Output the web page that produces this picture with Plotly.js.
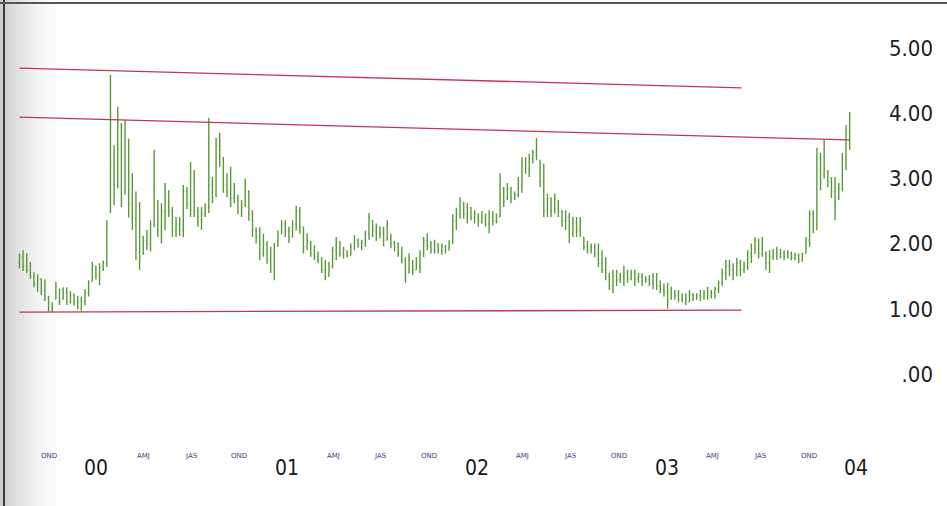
<!DOCTYPE html>
<html>
<head>
<meta charset="utf-8">
<script src="https://cdn.plot.ly/plotly-3.0.1.min.js"></script>
<style>
html,body{margin:0;padding:0;background:#fff;}
#chart{width:947px;height:506px;}
</style>
</head>
<body>
<div id="chart"></div>
<script>
// Weekly bars, first week starting 1999-09-20
const firstWeek = '1999-09-20';

const high = [1.85,1.90,1.85,1.72,1.56,1.53,1.47,1.45,1.20,1.10,
1.41,1.30,1.33,1.33,1.27,1.24,1.20,1.19,1.30,1.44,
1.72,1.66,1.70,1.74,2.36,4.59,3.51,4.10,3.85,3.90,
3.60,3.08,2.80,2.64,2.12,2.21,2.36,3.44,2.67,2.62,
2.93,2.82,2.56,2.41,2.41,2.90,2.87,3.25,3.13,2.56,
2.56,2.62,3.93,3.02,3.62,3.70,3.33,3.08,3.18,2.93,
2.75,2.67,3.00,2.82,2.51,2.25,2.25,2.15,2.04,1.95,
2.01,2.20,2.36,2.36,2.26,2.36,2.58,2.56,2.26,2.16,
2.04,1.97,1.88,1.79,1.75,1.72,1.95,2.10,2.04,1.95,
1.90,2.00,2.13,2.08,2.06,2.20,2.47,2.36,2.31,2.26,
2.26,2.36,2.15,2.04,2.02,1.95,1.79,1.85,1.75,1.79,
1.90,2.10,2.16,2.04,2.06,2.00,2.00,1.98,2.05,2.45,
2.55,2.71,2.64,2.62,2.56,2.51,2.46,2.50,2.46,2.51,
2.50,2.46,3.08,2.87,2.93,2.87,2.80,3.02,3.33,3.33,
3.38,3.44,3.62,3.28,3.23,2.77,2.71,2.77,2.67,2.51,
2.51,2.47,2.41,2.41,2.41,2.10,2.04,2.00,2.00,2.00,
1.90,1.79,1.55,1.60,1.60,1.55,1.66,1.60,1.60,1.60,
1.55,1.55,1.50,1.52,1.55,1.55,1.44,1.39,1.40,1.34,
1.29,1.29,1.24,1.24,1.29,1.24,1.24,1.29,1.29,1.34,
1.29,1.34,1.44,1.62,1.75,1.75,1.70,1.78,1.75,1.72,
1.90,2.00,2.10,2.08,2.10,1.88,1.90,1.92,1.95,1.92,
1.90,1.90,1.88,1.86,1.85,1.86,2.10,2.51,2.51,3.47,
3.39,3.59,3.13,3.02,3.02,2.93,3.39,3.82,4.02];

const low = [1.62,1.58,1.55,1.46,1.33,1.26,1.21,1.12,0.96,0.95,
1.15,1.06,1.14,1.06,1.08,1.05,0.99,0.97,1.05,1.19,
1.42,1.45,1.36,1.58,1.64,2.47,2.59,2.85,2.56,2.75,
2.40,2.21,1.75,1.60,1.83,1.90,1.88,2.25,2.10,2.00,
2.21,2.41,2.10,2.10,2.12,2.10,2.53,2.41,2.41,2.26,
2.21,2.41,2.47,2.62,2.71,3.18,2.78,2.71,2.56,2.62,
2.45,2.41,2.56,2.35,2.10,2.00,1.75,1.80,1.69,1.55,
1.44,1.96,2.15,2.10,2.01,2.10,2.20,2.15,1.85,1.90,
1.80,1.75,1.70,1.55,1.44,1.50,1.62,1.75,1.80,1.77,
1.79,1.82,1.90,1.94,1.90,1.95,2.06,2.10,2.04,2.08,
1.96,2.05,1.93,1.88,1.80,1.70,1.40,1.55,1.52,1.60,
1.55,1.79,1.90,1.85,1.85,1.85,1.83,1.85,1.90,2.00,
2.21,2.38,2.38,2.31,2.36,2.31,2.26,2.31,2.26,2.16,
2.28,2.31,2.41,2.56,2.67,2.62,2.67,2.71,2.78,3.07,
3.02,3.23,3.28,2.87,2.41,2.41,2.41,2.46,2.41,2.26,
2.21,2.01,2.10,2.10,2.10,1.90,1.85,1.85,1.79,1.64,
1.55,1.44,1.29,1.24,1.35,1.40,1.35,1.40,1.44,1.35,
1.40,1.35,1.40,1.35,1.30,1.29,1.24,1.19,1.00,1.14,
1.14,1.10,1.10,1.06,1.10,1.12,1.14,1.12,1.14,1.14,
1.16,1.16,1.24,1.35,1.44,1.50,1.44,1.50,1.50,1.55,
1.60,1.70,1.85,1.77,1.80,1.60,1.55,1.75,1.75,1.77,
1.75,1.77,1.74,1.74,1.70,1.72,1.85,1.95,2.16,2.21,
2.82,3.00,2.87,2.70,2.36,2.67,2.80,3.13,3.44];

const open = [1.70,1.80,1.65,1.60,1.50,1.38,1.45,1.28,1.18,1.02,
1.15,1.30,1.15,1.25,1.10,1.20,1.10,1.02,1.12,1.25,
1.42,1.65,1.52,1.62,1.70,2.50,3.20,2.90,3.80,2.80,
3.60,2.60,2.40,1.90,1.85,2.05,2.00,2.30,2.60,2.20,
2.50,2.75,2.50,2.20,2.30,2.20,2.80,2.60,3.00,2.50,
2.35,2.45,2.55,2.90,2.75,3.50,3.30,2.90,2.80,2.70,
2.70,2.50,2.60,2.80,2.45,2.20,2.10,1.85,2.00,1.75,
1.65,1.96,2.15,2.30,2.20,2.10,2.30,2.50,2.25,1.95,
2.00,1.85,1.80,1.75,1.60,1.50,1.65,1.90,2.00,1.85,
1.85,1.82,1.95,2.05,2.00,2.00,2.15,2.35,2.20,2.25,
2.15,2.05,2.10,2.00,1.95,1.85,1.75,1.55,1.70,1.60,
1.65,1.85,2.05,1.95,1.90,2.00,1.90,1.95,1.90,2.00,
2.35,2.45,2.60,2.45,2.55,2.40,2.45,2.35,2.40,2.30,
2.40,2.35,2.41,2.85,2.70,2.80,2.70,2.75,2.90,3.20,
3.15,3.30,3.40,3.28,2.95,2.50,2.70,2.50,2.65,2.50,
2.35,2.40,2.15,2.30,2.20,2.10,1.95,1.90,1.95,1.85,
1.70,1.60,1.50,1.35,1.50,1.45,1.50,1.55,1.45,1.55,
1.45,1.50,1.42,1.45,1.40,1.48,1.35,1.30,1.25,1.15,
1.25,1.20,1.15,1.20,1.12,1.22,1.15,1.20,1.18,1.25,
1.20,1.25,1.30,1.40,1.55,1.65,1.60,1.55,1.70,1.60,
1.65,1.85,1.85,2.05,1.85,1.85,1.70,1.80,1.85,1.80,
1.85,1.80,1.85,1.78,1.82,1.75,1.85,2.05,2.45,2.30,
3.30,3.05,3.10,2.95,2.80,2.70,2.85,3.30,3.70];

const close = [1.80,1.65,1.60,1.50,1.38,1.45,1.28,1.18,1.02,1.05,
1.35,1.12,1.25,1.10,1.20,1.10,1.02,1.12,1.25,1.40,
1.65,1.52,1.62,1.70,2.30,3.20,2.90,3.85,2.70,3.70,
2.60,2.40,1.90,1.80,2.05,2.00,2.30,2.80,2.20,2.50,
2.80,2.50,2.20,2.30,2.20,2.80,2.60,3.10,2.50,2.35,
2.45,2.55,2.90,2.70,3.50,3.30,2.90,2.80,2.70,2.80,
2.50,2.60,2.90,2.45,2.20,2.10,1.85,2.00,1.75,1.65,
1.95,2.15,2.30,2.20,2.10,2.30,2.50,2.25,1.95,2.05,
1.85,1.80,1.75,1.60,1.50,1.65,1.90,2.00,1.85,1.90,
1.82,1.95,2.05,2.00,2.02,2.15,2.40,2.20,2.25,2.15,
2.05,2.30,2.00,1.95,1.85,1.75,1.50,1.75,1.60,1.70,
1.85,2.05,1.95,1.90,2.00,1.90,1.95,1.90,2.00,2.35,
2.45,2.65,2.45,2.55,2.40,2.45,2.35,2.40,2.30,2.40,
2.35,2.40,2.90,2.65,2.85,2.70,2.75,2.95,3.25,3.15,
3.30,3.40,3.35,2.95,2.50,2.70,2.50,2.70,2.50,2.35,
2.40,2.15,2.35,2.20,2.35,1.95,1.90,1.95,1.85,1.70,
1.60,1.50,1.35,1.50,1.45,1.50,1.55,1.45,1.55,1.45,
1.50,1.42,1.45,1.40,1.48,1.35,1.30,1.25,1.10,1.25,
1.20,1.15,1.20,1.12,1.22,1.15,1.20,1.18,1.25,1.20,
1.25,1.30,1.40,1.55,1.65,1.60,1.55,1.70,1.60,1.65,
1.85,1.80,2.05,1.85,2.00,1.70,1.80,1.85,1.80,1.85,
1.80,1.85,1.78,1.82,1.75,1.84,2.05,2.45,2.30,3.30,
2.95,3.20,2.95,2.80,2.60,2.85,3.30,3.70,3.95];

// Trend lines (start/end dates and values)
const upperX = ['1999-09-20','2003-07-09'];
const upperY = [4.69, 4.39];
const middleX = ['1999-09-20','2004-02-02'];
const middleY = [3.94, 3.59];
const lowerX = ['1999-09-20','2003-07-09'];
const lowerY = [0.95, 0.98];

// Quarter labels along the time axis
const quarterDates = ['1999-11-15','2000-02-15','2000-05-15','2000-08-15','2000-11-15',
  '2001-02-15','2001-05-15','2001-08-15','2001-11-15','2002-02-15','2002-05-15',
  '2002-08-15','2002-11-15','2003-02-15','2003-05-15','2003-08-15','2003-11-15','2004-02-15'];
const quarterLabels = ['OND','00','AMJ','JAS','OND','01','AMJ','JAS','OND','02','AMJ',
  'JAS','OND','03','AMJ','JAS','OND','04'];

// Price axis ticks
const yTickVals = [0,1,2,3,4,5];
const yTickText = ['.00','1.00','2.00','3.00','4.00','5.00'];

// Build week dates
const dates = [];
const t0 = Date.parse(firstWeek + 'T00:00:00Z');
for (let i = 0; i < high.length; i++) {
  dates.push(new Date(t0 + i * 7 * 86400000).toISOString().slice(0, 10));
}

const narrow = '"Liberation Sans Narrow", "DejaVu Sans Condensed", "Arial Narrow", sans-serif';
const barColor = '#58993a';
const lineColor = '#c23650';

const traces = [
  {
    type: 'ohlc', x: dates, open: open, high: high, low: low, close: close,
    increasing: {line: {color: barColor, width: 1.4}},
    decreasing: {line: {color: barColor, width: 1.4}},
    tickwidth: 0.25, hoverinfo: 'skip', showlegend: false
  },
  {type: 'scatter', mode: 'lines', x: upperX, y: upperY, line: {color: lineColor, width: 1.3}, hoverinfo: 'skip', showlegend: false},
  {type: 'scatter', mode: 'lines', x: middleX, y: middleY, line: {color: lineColor, width: 1.3}, hoverinfo: 'skip', showlegend: false},
  {type: 'scatter', mode: 'lines', x: lowerX, y: lowerY, line: {color: lineColor, width: 1.3}, hoverinfo: 'skip', showlegend: false}
];

const annotations = quarterDates.map((d, i) => {
  const isYear = /^\d\d$/.test(quarterLabels[i]);
  return {
    x: d, xref: 'x', yref: 'paper',
    y: isYear ? -0.065 : -0.038,
    yanchor: 'middle', xanchor: 'center', showarrow: false,
    text: quarterLabels[i],
    font: isYear ? {family: narrow, size: 21, color: '#1a1a1a'}
                 : {family: 'DejaVu Sans, sans-serif', size: 7, color: '#4a3c78'}
  };
});

// scanned-page shading at the left edge (page pixels -> paper units)
const PW = 928, PL = 8;
const shapes = [];
const shadeSteps = 16;
for (let s = 0; s < shadeSteps; s++) {
  const px0 = s * 4, px1 = (s + 1) * 4;
  const a = 0.20 * Math.pow(1 - s / shadeSteps, 1.8);
  shapes.push({type: 'rect', xref: 'paper', yref: 'paper',
    x0: (px0 - PL) / PW, x1: (px1 - PL) / PW, y0: -0.16, y1: 1.03,
    fillcolor: 'rgba(0,0,0,' + a.toFixed(3) + ')', line: {width: 0}, layer: 'below'});
}
shapes.push({type: 'line', xref: 'paper', yref: 'paper', x0: (4 - PL) / PW, x1: (4 - PL) / PW, y0: -0.16, y1: 1.03, line: {color: '#3a3a3a', width: 2}});
shapes.push({type: 'line', xref: 'paper', yref: 'paper', x0: -PL / PW, x1: 940 / PW, y0: 1.016, y1: 1.016, line: {color: '#555', width: 2}});

const layout = {
  width: 947, height: 506,
  margin: {l: 8, r: 11, t: 10, b: 66},
  paper_bgcolor: '#ffffff',
  plot_bgcolor: 'rgba(0,0,0,0)',
  showlegend: false,
  xaxis: {
    type: 'date', range: ['1999-08-29', '2004-07-17'],
    showgrid: false, zeroline: false, showline: false, showticklabels: false,
    ticks: '', rangeslider: {visible: false}, fixedrange: true
  },
  yaxis: {
    range: [-1.012, 5.583], side: 'right', ticklabelposition: 'inside',
    tickvals: yTickVals, ticktext: yTickText,
    tickfont: {family: narrow, size: 22, color: '#1e1e1e'},
    showgrid: false, zeroline: false, showline: false, ticks: '', fixedrange: true
  },
  annotations: annotations,
  shapes: shapes
};

Plotly.newPlot('chart', traces, layout, {displayModeBar: false, staticPlot: true});
</script>
</body>
</html>
